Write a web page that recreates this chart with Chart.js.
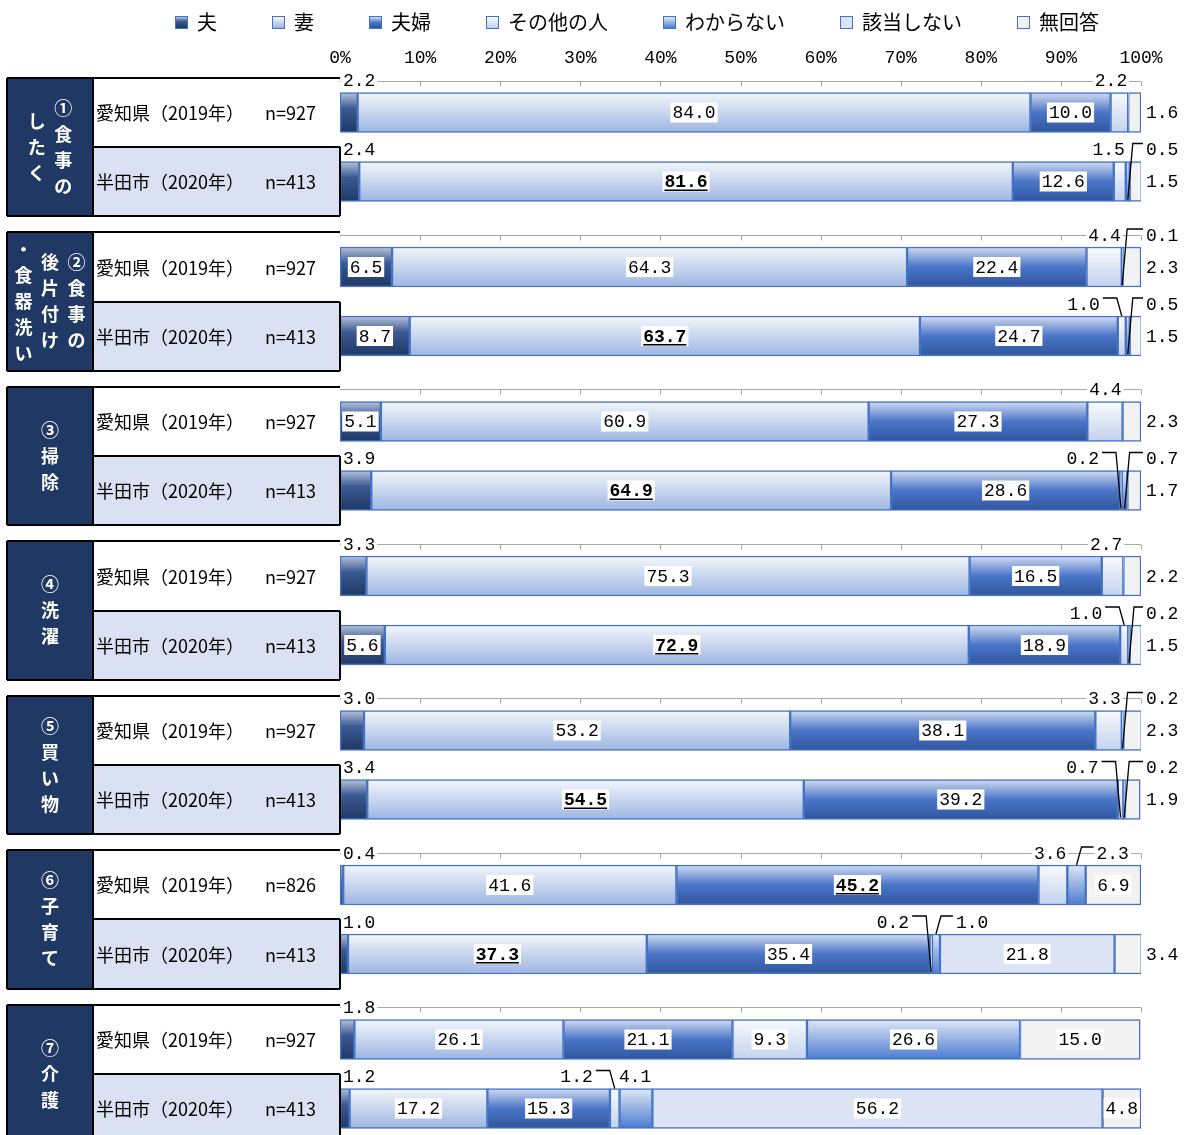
<!DOCTYPE html>
<html lang="ja">
<head>
<meta charset="utf-8">
<title>家事の分担</title>
<script src="https://cdn.jsdelivr.net/npm/chart.js@4.4.1/dist/chart.umd.min.js"></script>
<style>
  html, body { margin: 0; padding: 0; background: #fff; overflow: hidden; }
  #wrap { position: relative; width: 1187px; height: 1150px; }
  #legend { position: absolute; left: 175px; top: 8px; display: flex; font-family: "Noto Sans CJK JP", sans-serif; font-size: 20px; color: #000; line-height: 28px; }
  .item { display: flex; align-items: center; margin-right: 55px; }
  .sw { width: 11px; height: 11px; border: 1px solid #4472c4; margin-right: 9px; }
</style>
</head>
<body>
<div id="wrap">
  <div id="legend"></div>
  <canvas id="chart" width="1187" height="1150"></canvas>
</div>
<script>
// ─── Data ───────────────────────────────────────────────────

const seriesNames = ['夫', '妻', '夫婦', 'その他の人', 'わからない', '該当しない', '無回答'];

const groupLabels = [
  ['①食事の', 'したく'],
  ['②食事の', '後片付け', '・食器洗い'],
  ['③掃除'],
  ['④洗濯'],
  ['⑤買い物'],
  ['⑥子育て'],
  ['⑦介護'],
];
const rowNames = ['愛知県（2019年）', '半田市（2020年）'];
const sampleSizes = [927, 413, 927, 413, 927, 413, 927, 413, 927, 413, 826, 413, 927, 413];

const husband       = [2.2, 2.4, 6.5, 8.7, 5.1, 3.9, 3.3, 5.6, 3.0, 3.4, 0.4, 1.0, 1.8, 1.2];
const wife          = [84.0, 81.6, 64.3, 63.7, 60.9, 64.9, 75.3, 72.9, 53.2, 54.5, 41.6, 37.3, 26.1, 17.2];
const couple        = [10.0, 12.6, 22.4, 24.7, 27.3, 28.6, 16.5, 18.9, 38.1, 39.2, 45.2, 35.4, 21.1, 15.3];
const others        = [2.2, 1.5, 4.4, 1.0, 4.4, 0.2, 2.7, 1.0, 3.3, 0.7, 3.6, 0.2, 9.3, 1.2];
const unknown       = [0, 0.5, 0.1, 0.5, 0, 0.7, 0, 0.2, 0.2, 0.2, 2.3, 1.0, 26.6, 4.1];
const notApplicable = [0, 0, 0, 0, 0, 0, 0, 0, 0, 0, 0, 21.8, 0, 56.2];
const noAnswer      = [1.6, 1.5, 2.3, 1.5, 2.3, 1.7, 2.2, 1.5, 2.3, 1.9, 6.9, 3.4, 15.0, 4.8];

const xTicks = [0, 10, 20, 30, 40, 50, 60, 70, 80, 90, 100];

// ─── Label placement (style) ────────────────────────────────
// in: inside, inB: inside bold+underline, tl: above bar start, ta: above, ending at segment end,
// tL / tR: above, left / right of segment with leader, tE: above bar end with leader, rt: right of bar
const placement = [
  ['tl', 'in',  'in',  'ta', '',   '',   'rt'],
  ['tl', 'inB', 'in',  'ta', 'tE', '',   'rt'],
  ['in', 'in',  'in',  'ta', 'tE', '',   'rt'],
  ['in', 'inB', 'in',  'tL', 'tE', '',   'rt'],
  ['in', 'in',  'in',  'ta', '',   '',   'rt'],
  ['tl', 'inB', 'in',  'tL', 'tE', '',   'rt'],
  ['tl', 'in',  'in',  'ta', '',   '',   'rt'],
  ['in', 'inB', 'in',  'tL', 'tE', '',   'rt'],
  ['tl', 'in',  'in',  'ta', 'tE', '',   'rt'],
  ['tl', 'inB', 'in',  'tL', 'tE', '',   'rt'],
  ['tl', 'in',  'inB', 'ta', 'tR', '',   'in'],
  ['tl', 'inB', 'in',  'tL', 'tR', 'in', 'rt'],
  ['tl', 'in',  'in',  'in', 'in', '',   'in'],
  ['tl', 'in',  'in',  'tL', 'ta', 'in', 'in'],
];

const GROUP_PITCH = 2.239;
const rowPos = i => Math.floor(i / 2) * GROUP_PITCH + (i % 2);

const NUM_FONT = '"Liberation Mono", monospace';
const JP_FONT = '"Noto Sans CJK JP", sans-serif';

// ─── Colours ────────────────────────────────────────────────

const fills = [
  [[0, '#b9c4da'], [0.4, '#3a5993'], [1, '#1f3864']],
  [[0, '#f4f7fc'], [1, '#9db5e2']],
  [[0, '#d3ddf1'], [0.5, '#4a75c8'], [1, '#2f559c']],
  [[0, '#f8fafd'], [1, '#c3d2ee']],
  [[0, '#dfe7f6'], [1, '#4a7bd0']],
  [[0, '#dbe3f4'], [1, '#dbe3f4']],
  [[0, '#f2f2f2'], [1, '#f2f2f2']],
];

function gradient(stops) {
  const solid = stops[Math.floor(stops.length / 2)][1];
  return ctx => {
    const chart = ctx.chart;
    const y = chart.scales.y;
    if (!y || ctx.dataIndex == null) return solid;
    const c = y.getPixelForValue(rowPos(ctx.dataIndex));
    if (!isFinite(c)) return solid;
    const g = chart.ctx.createLinearGradient(0, c - 20, 0, c + 20);
    stops.forEach(([o, col]) => g.addColorStop(o, col));
    return g;
  };
}

// ─── Legend (HTML) ──────────────────────────────────────────

const legendEl = document.getElementById('legend');
seriesNames.forEach((name, i) => {
  const item = document.createElement('div');
  item.className = 'item';
  const sw = document.createElement('span');
  sw.className = 'sw';
  sw.style.background = 'linear-gradient(' + fills[i].map(([o, c]) => c + ' ' + (o * 100) + '%').join(',') + ')';
  item.appendChild(sw);
  item.appendChild(document.createTextNode(name));
  legendEl.appendChild(item);
});

// ─── Helpers ────────────────────────────────────────────────

function drawNum(ctx, str, x, y, align, opts = {}) {
  ctx.font = (opts.bold ? 'bold ' : '') + '18px ' + NUM_FONT;
  ctx.textAlign = align;
  ctx.textBaseline = 'middle';
  const w = ctx.measureText(str).width;
  const left = align === 'left' ? x : align === 'right' ? x - w : x - w / 2;
  if (opts.bg) {
    ctx.fillStyle = '#fff';
    ctx.fillRect(left - 2, y - 10, w + 4, 20);
  }
  ctx.fillStyle = '#000';
  ctx.fillText(str, x, y + 1);
  if (opts.bold) {
    ctx.fillRect(left, y + 8, w, 1.5);
  }
  return {left, right: left + w};
}

// ─── Plugins ────────────────────────────────────────────────

const tablePlugin = {
  id: 'table',
  afterDraw(chart) {
    const {ctx, scales: {y, x}} = chart;
    const right = x.getPixelForValue(0);
    ctx.save();
    groupLabels.forEach((cols, g) => {
      const top = Math.round(y.getPixelForValue(rowPos(g * 2) - 0.5));
      const mid = Math.round(y.getPixelForValue(rowPos(g * 2) + 0.5));
      const bottom = Math.round(y.getPixelForValue(rowPos(g * 2 + 1) + 0.5));
      ctx.fillStyle = '#1f3864';
      ctx.fillRect(7, top, 86, bottom - top);
      ctx.fillStyle = '#fff';
      ctx.fillRect(93, top, right - 93, mid - top);
      ctx.fillStyle = '#d9e1f2';
      ctx.fillRect(93, mid, right - 93, bottom - mid);

      ctx.strokeStyle = '#000';
      ctx.lineWidth = 2;
      ctx.beginPath();
      ctx.moveTo(7, top); ctx.lineTo(right, top);
      ctx.moveTo(7, bottom); ctx.lineTo(right, bottom);
      ctx.moveTo(7, top); ctx.lineTo(7, bottom);
      ctx.moveTo(93, top); ctx.lineTo(93, bottom);
      ctx.moveTo(93, mid); ctx.lineTo(right, mid);
      ctx.moveTo(right, mid); ctx.lineTo(right, bottom);
      ctx.stroke();

      // vertical group title, columns right to left
      ctx.fillStyle = '#fff';
      ctx.font = 'bold 18px ' + JP_FONT;
      ctx.textAlign = 'center';
      ctx.textBaseline = 'middle';
      const cy = (top + bottom) / 2;
      cols.forEach((col, ci) => {
        const cx = 50 + ((cols.length - 1) / 2 - ci) * 26.5;
        const chars = Array.from(col);
        chars.forEach((ch, k) => {
          ctx.fillText(ch, cx, cy + (k - (chars.length - 1) / 2) * 26);
        });
      });

      // row names
      ctx.fillStyle = '#000';
      ctx.font = '18px ' + JP_FONT;
      [0, 1].forEach(r => {
        const ry = (r === 0 ? (top + mid) / 2 : (mid + bottom) / 2) + 1;
        ctx.textAlign = 'left';
        ctx.fillText(rowNames[r], 96, ry);
        ctx.textAlign = 'right';
        ctx.fillText('n=' + sampleSizes[g * 2 + r], 316, ry);
      });
    });
    ctx.restore();
  },
};

const labelPlugin = {
  id: 'valueLabels',
  afterDatasetsDraw(chart) {
    const {ctx, scales: {x, y}} = chart;
    const x0 = x.getPixelForValue(0);
    const x100 = x.getPixelForValue(100);
    ctx.save();

    // per-group axis line with tick marks
    ctx.strokeStyle = '#a6a6a6';
    ctx.lineWidth = 1;
    for (let g = 0; g < groupLabels.length; g++) {
      const ly = Math.round(y.getPixelForValue(rowPos(g * 2)) - 32) + 0.5;
      ctx.beginPath();
      ctx.moveTo(x0, ly);
      ctx.lineTo(x100, ly);
      xTicks.slice(1).forEach(t => {
        const tx = Math.round(x.getPixelForValue(t)) + 0.5;
        ctx.moveTo(tx, ly);
        ctx.lineTo(tx, ly + 5);
      });
      ctx.stroke();
    }

    ctx.strokeStyle = '#000';
    ctx.lineWidth = 1.3;
    chart.data.datasets.forEach((ds, si) => {
      const meta = chart.getDatasetMeta(si);
      ds.data.forEach((pt, i) => {
        const mode = placement[i][si];
        if (!mode || !pt.x) return;
        const bar = meta.data[i];
        const p = bar.getProps(['x', 'base', 'y', 'height'], true);
        const s0 = Math.min(p.x, p.base);
        const s1 = Math.max(p.x, p.base);
        const sc = (s0 + s1) / 2;
        const barTop = p.y - p.height / 2;
        const barBottom = p.y + p.height / 2;
        const ty = barTop - 12;
        const str = pt.x.toFixed(1);
        const leaderEnd = (s1 - s0) < 6 ? barBottom - 2 : barTop;
        switch (mode) {
          case 'in':
          case 'inB':
            drawNum(ctx, str, sc, p.y, 'center', {bg: true, bold: mode === 'inB'});
            break;
          case 'tl':
            drawNum(ctx, str, s0 + 3, ty, 'left', {bg: true});
            break;
          case 'ta':
            drawNum(ctx, str, s1 - 1, ty, 'right', {bg: true});
            break;
          case 'tL': {
            const r = drawNum(ctx, str, sc - 22, ty, 'right', {bg: true});
            ctx.beginPath();
            ctx.moveTo(r.right + 3, ty - 6);
            ctx.lineTo(sc - 5, ty - 6);
            ctx.lineTo(sc, leaderEnd);
            ctx.stroke();
            break;
          }
          case 'tR':
          case 'tE': {
            const tx = mode === 'tE' ? x100 + 5 : sc + 20;
            const r = drawNum(ctx, str, tx, ty, 'left', {bg: true});
            ctx.beginPath();
            ctx.moveTo(r.left - 3, ty - 6);
            ctx.lineTo(sc + 5, ty - 6);
            ctx.lineTo(sc, leaderEnd);
            ctx.stroke();
            break;
          }
          case 'rt':
            drawNum(ctx, str, x100 + 5, p.y, 'left');
            break;
        }
      });
    });
    ctx.restore();
  },
};

// ─── Chart ──────────────────────────────────────────────────

const seriesValues = [husband, wife, couple, others, unknown, notApplicable, noAnswer];

const datasets = seriesValues.map((vals, si) => ({
  label: seriesNames[si],
  data: vals.map((v, i) => ({x: v, y: rowPos(i)})),
  backgroundColor: gradient(fills[si]),
  borderColor: '#4472c4',
  borderWidth: ctx => (ctx.raw && ctx.raw.x > 0 ? 1.5 : 0),
  borderSkipped: false,
  barThickness: 40,
}));

new Chart(document.getElementById('chart'), {
  type: 'bar',
  data: {datasets},
  options: {
    indexAxis: 'y',
    responsive: false,
    animation: false,
    devicePixelRatio: 1,
    layout: {padding: {left: 340, right: 46, top: 26, bottom: 7}},
    plugins: {
      legend: {display: false},
      tooltip: {enabled: false},
    },
    scales: {
      x: {
        type: 'linear',
        position: 'top',
        stacked: true,
        min: 0,
        max: 100,
        afterBuildTicks: axis => { axis.ticks = xTicks.map(v => ({value: v})); },
        afterFit: axis => { axis.height = 52; },
        ticks: {
          callback: v => v + '%',
          color: '#000',
          font: {family: NUM_FONT, size: 18},
          padding: 9,
          maxRotation: 0,
          autoSkip: false,
        },
        grid: {display: false, drawTicks: false},
        border: {display: false},
      },
      y: {
        type: 'linear',
        reverse: true,
        stacked: true,
        offset: false,
        grid: {offset: false},
        min: -0.5,
        max: rowPos(sampleSizes.length - 1) + 0.5,
        display: false,
      },
    },
  },
  plugins: [tablePlugin, labelPlugin],
});
</script>
</body>
</html>
